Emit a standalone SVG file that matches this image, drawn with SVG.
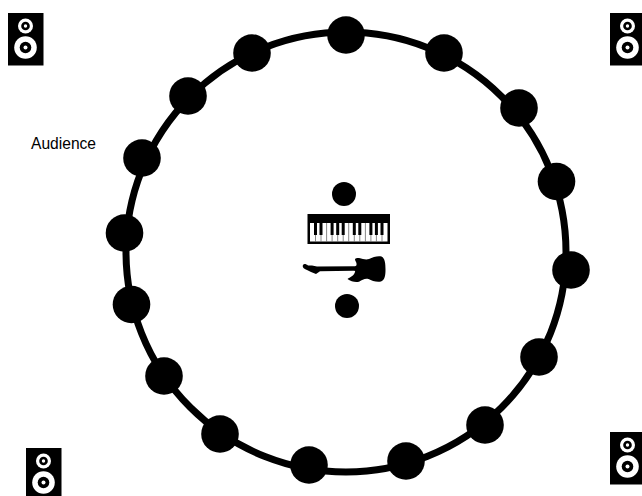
<svg xmlns="http://www.w3.org/2000/svg" width="642" height="496" viewBox="0 0 642 496">
<style>
.ring{fill:none;stroke:#000;stroke-width:7}
.p{fill:#000}
.w{fill:#fff}
.sep{stroke:#555;stroke-width:.7;fill:none}
.bk{stroke:#000;stroke-width:3;fill:none}
text{font-family:"Liberation Sans",Arial,sans-serif;font-size:15.600px;fill:#000}
</style>
<defs>
<g id="spk">
<rect x="0" y="0" width="35.500" height="52.500" class="p"/>
<circle cx="17.500" cy="13" r="7.500" class="w"/><circle cx="17.500" cy="13" r="4.300" class="p"/><circle cx="17.500" cy="13" r="1.700" class="w"/>
<circle cx="17.500" cy="34.500" r="11.300" class="w"/><circle cx="17.500" cy="34.500" r="5.800" class="p"/><circle cx="17.500" cy="34.500" r="2" class="w"/>
</g>
</defs>
<rect width="642" height="496" fill="#fff"/>
<g id="connectors"><circle class="ring" cx="346" cy="252" r="220"/></g>
<g id="n1"><circle class="p" cx="346" cy="35" r="18.800"/></g>
<g id="n2"><circle class="p" cx="444" cy="53" r="18.800"/></g>
<g id="n3"><circle class="p" cx="519" cy="108" r="18.800"/></g>
<g id="n4"><circle class="p" cx="556.500" cy="181.500" r="18.800"/></g>
<g id="n5"><circle class="p" cx="571" cy="270" r="18.800"/></g>
<g id="n6"><circle class="p" cx="539" cy="357" r="18.800"/></g>
<g id="n7"><circle class="p" cx="485" cy="425" r="18.800"/></g>
<g id="n8"><circle class="p" cx="406" cy="461" r="18.800"/></g>
<g id="n9"><circle class="p" cx="309" cy="465" r="18.800"/></g>
<g id="n10"><circle class="p" cx="220" cy="434" r="18.800"/></g>
<g id="n11"><circle class="p" cx="164" cy="376" r="18.800"/></g>
<g id="n12"><circle class="p" cx="131.500" cy="304.500" r="18.800"/></g>
<g id="n13"><circle class="p" cx="124.500" cy="233" r="18.800"/></g>
<g id="n14"><circle class="p" cx="142" cy="158" r="18.800"/></g>
<g id="n15"><circle class="p" cx="188" cy="96" r="18.800"/></g>
<g id="n16"><circle class="p" cx="252" cy="53" r="18.800"/></g>
<g id="singer"><circle class="p" cx="344" cy="194" r="12"/></g>
<g id="drummer"><circle class="p" cx="347" cy="306" r="12"/></g>
<g id="keyboard">
<rect x="307.500" y="214" width="82.500" height="30" class="p"/>
<rect x="310" y="223" width="77.500" height="18.500" class="w"/>
<path class="sep" d="M315.500 223v18.500M321 223v18.500M326.600 223v18.500M332.100 223v18.500M337.700 223v18.500M343.200 223v18.500M348.700 223v18.500M354.300 223v18.500M359.800 223v18.500M365.400 223v18.500M370.900 223v18.500M376.400 223v18.500M382 223v18.500"/>
<path class="bk" d="M315.500 223v12M321 223v12M332.100 223v12M337.700 223v12M343.200 223v12M354.300 223v12M359.800 223v12M370.900 223v12M376.400 223v12M382 223v12"/>
</g>
<g id="guitar">
<path class="p" d="M303 265C304 263.500 306 264 308 265.500L312 265.500L317 266.500L355 266.200C357 266 357 263.500 355.500 261C354 258.500 356 257.500 359 258C363 259 366 260 369 259C373 257 378 255.500 381.500 256.500C385 258 385.500 264 385.500 269.500C385.500 275 385 280 381 281.500C377 282.500 372 281 368.500 279C365 278 362 280 359.500 281.500C356 283 351 281.500 347.500 279C350 277 354 276 355 272C355.500 271 355 270.800 353 270.800L320 271.200L316 274L311 272L307 270C304 269 302 267 303 265Z"/>
</g>
<use id="speaker-tl" href="#spk" x="8" y="13"/>
<use id="speaker-tr" href="#spk" x="610" y="13"/>
<use id="speaker-bl" href="#spk" x="26" y="448"/>
<use id="speaker-br" href="#spk" x="610" y="432"/>
<g id="audience-label"><text x="31" y="148.500">Audience</text></g>
</svg>
